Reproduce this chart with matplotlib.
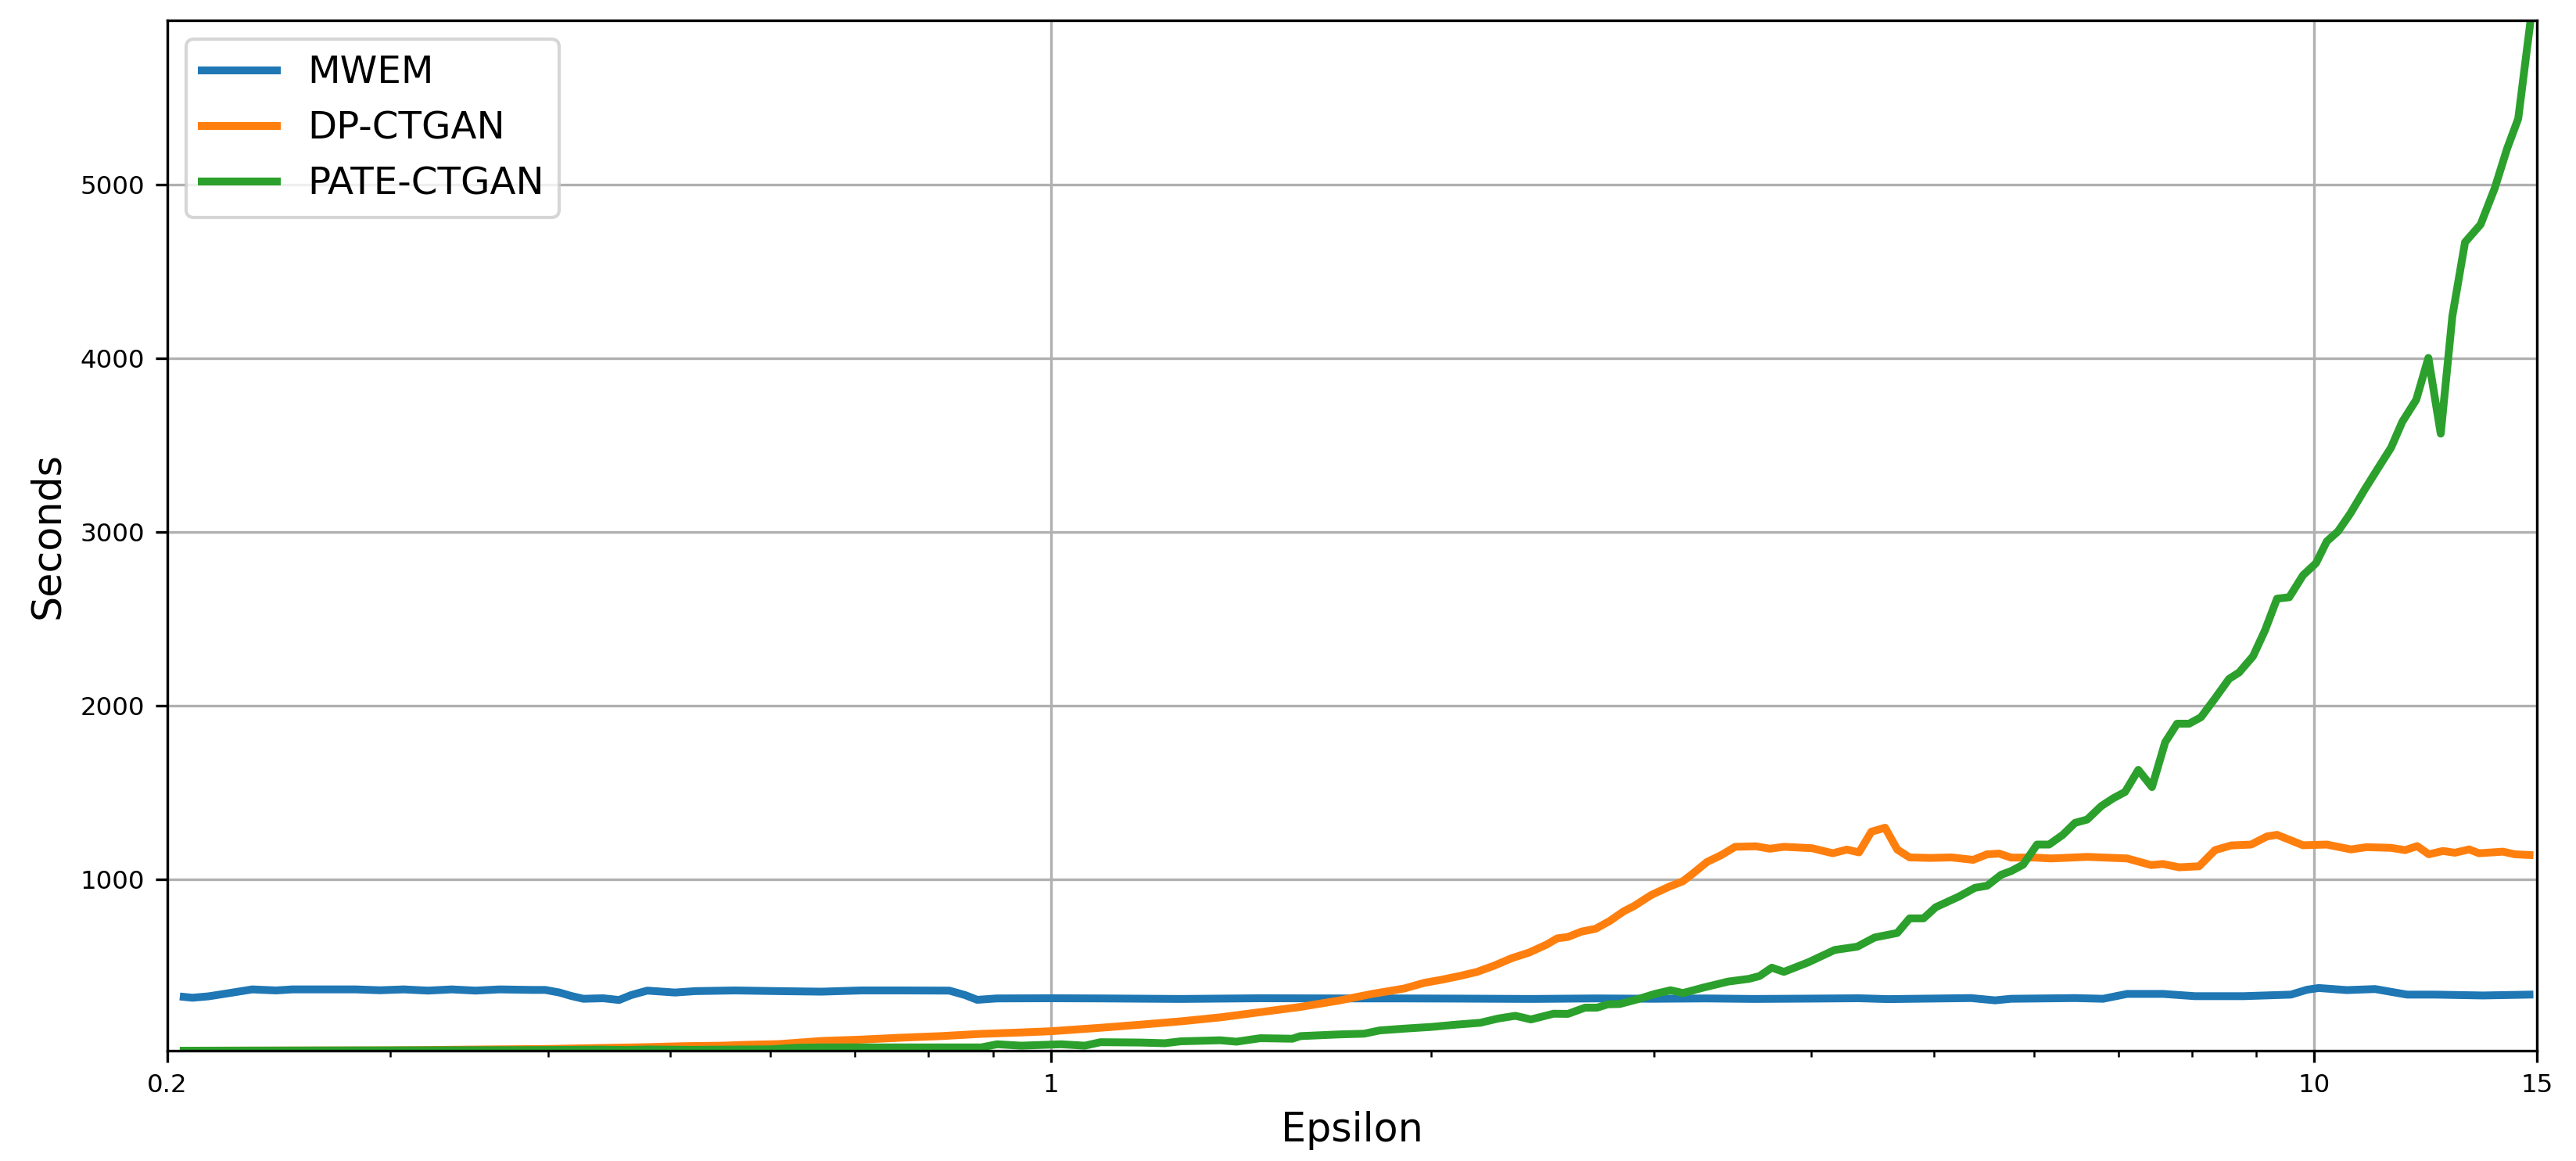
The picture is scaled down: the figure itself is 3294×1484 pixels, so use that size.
import matplotlib
matplotlib.use("Agg")
import matplotlib.pyplot as plt

# epsilon values and run times (seconds)
mwem_eps = [0.206, 0.2093, 0.2155, 0.2235, 0.2334, 0.2438, 0.251, 0.2819, 0.2944, 0.3076,
            0.3214, 0.3357, 0.3506, 0.3663, 0.3882, 0.3981, 0.4085, 0.4175, 0.4267, 0.4423,
            0.4554, 0.4654, 0.4794, 0.5043, 0.523, 0.5623, 0.6091, 0.6588, 0.7085, 0.7617,
            0.8313, 0.8557, 0.8746, 0.907, 1.0, 1.095, 1.267, 1.465, 1.694, 1.904,
            2.1, 2.4, 2.7, 3.0, 3.3, 3.6, 4.0, 4.36, 4.6, 4.83,
            5.35, 5.589, 5.754, 6.466, 6.805, 7.11, 7.592, 8.046, 8.783, 9.583,
            9.867, 10.08, 10.61, 11.17, 11.84, 12.46, 13.59, 14.8]
mwem_sec = [322, 317, 325, 343, 365, 359, 365, 365, 360, 365,
            358, 365, 358, 365, 362, 362, 347, 327, 311, 314,
            304, 332, 358, 347, 355, 359, 355, 352, 359, 359,
            358, 332, 305, 313, 314, 313, 310, 314, 313, 313,
            312, 310, 313, 311, 313, 310, 312, 314, 309, 311,
            315, 302, 311, 315, 311, 339, 339, 326, 326, 335,
            363, 373, 361, 367, 335, 335, 330, 335]

dpctgan_eps = [0.206, 0.3, 0.356, 0.4, 0.442, 0.476, 0.512, 0.55, 0.575, 0.609,
               0.6588, 0.7085, 0.7617, 0.819, 0.881, 0.9475, 1.0, 1.095, 1.178, 1.267,
               1.362, 1.465, 1.576, 1.694, 1.796, 1.904, 1.976, 2.04, 2.106, 2.175,
               2.244, 2.317, 2.391, 2.47, 2.517, 2.566, 2.631, 2.699, 2.768, 2.84,
               2.895, 2.988, 3.085, 3.165, 3.226, 3.307, 3.393, 3.48, 3.615, 3.708,
               3.804, 4.003, 4.158, 4.266, 4.362, 4.461, 4.574, 4.677, 4.783, 4.968,
               5.161, 5.37, 5.509, 5.63, 5.754, 6.012, 6.189, 6.61, 7.11, 7.427,
               7.592, 7.816, 8.106, 8.345, 8.593, 8.912, 9.175, 9.343, 9.795, 10.23,
               10.69, 11.0, 11.5, 11.8, 12.06, 12.32, 12.64, 12.92, 13.26, 13.5,
               14.1, 14.41, 14.8]
dpctgan_sec = [12, 14, 19, 22, 28, 32, 38, 41, 46, 50,
               68, 76, 87, 96, 109, 117, 124, 144, 162, 181,
               204, 234, 264, 302, 339, 370, 403, 421, 442, 466,
               502, 545, 577, 624, 659, 667, 698, 714, 758, 814,
               845, 909, 956, 988, 1035, 1099, 1138, 1186, 1189, 1175,
               1186, 1178, 1149, 1170, 1154, 1273, 1296, 1170, 1125, 1122,
               1125, 1111, 1143, 1147, 1124, 1124, 1119, 1128, 1119, 1081,
               1087, 1068, 1074, 1167, 1194, 1199, 1246, 1255, 1195, 1199,
               1171, 1184, 1180, 1167, 1190, 1143, 1162, 1152, 1171, 1149,
               1158, 1143, 1139]

pate_eps = [0.206, 0.25, 0.3, 0.35, 0.4, 0.44, 0.46, 0.48, 0.52, 0.6,
            0.629, 0.6588, 0.7085, 0.7617, 0.819, 0.881, 0.907, 0.9475, 1.019, 1.064,
            1.095, 1.178, 1.231, 1.267, 1.362, 1.403, 1.465, 1.553, 1.576, 1.694,
            1.77, 1.822, 1.904, 2.001, 2.093, 2.188, 2.259, 2.332, 2.399, 2.5,
            2.566, 2.648, 2.707, 2.759, 2.821, 2.913, 3.007, 3.094, 3.165, 3.287,
            3.436, 3.57, 3.639, 3.721, 3.804, 3.977, 4.172, 4.348, 4.488, 4.677,
            4.783, 4.906, 5.016, 5.234, 5.388, 5.509, 5.651, 5.754, 5.882, 6.033,
            6.167, 6.323, 6.466, 6.61, 6.781, 6.93, 7.083, 7.256, 7.439, 7.62,
            7.787, 7.96, 8.133, 8.345, 8.561, 8.719, 8.944, 9.141, 9.343, 9.553,
            9.797, 10.03, 10.23, 10.44, 10.68, 10.96, 11.24, 11.5, 11.74, 12.04,
            12.31, 12.59, 12.86, 13.16, 13.54, 13.89, 14.21, 14.5, 14.83]
pate_sec = [12, 13, 14, 15, 16, 18, 16, 19, 17, 20,
            29, 31, 31, 31, 31, 31, 49, 41, 49, 41,
            61, 59, 55, 66, 72, 64, 84, 81, 96, 106,
            110, 129, 139, 149, 162, 173, 197, 213, 192, 225,
            224, 260, 260, 279, 281, 308, 339, 360, 344, 376,
            410, 426, 442, 490, 466, 521, 592, 611, 664, 690,
            774, 774, 838, 900, 950, 962, 1025, 1046, 1083, 1199,
            1199, 1255, 1324, 1343, 1420, 1465, 1502, 1629, 1530, 1788,
            1895, 1895, 1932, 2041, 2153, 2190, 2284, 2433, 2615, 2623,
            2750, 2819, 2945, 3002, 3106, 3243, 3370, 3484, 3634, 3760,
            4001, 3565, 4242, 4667, 4770, 4977, 5207, 5379, 5945]

fig = plt.figure(figsize=(3295 / 300, 1484 / 300), dpi=300)
ax = fig.add_axes([0.065, 0.095, 0.9195, 0.8875])

ax.plot(mwem_eps, mwem_sec, linewidth=2.4, label='MWEM')
ax.plot(dpctgan_eps, dpctgan_sec, linewidth=2.4, label='DP-CTGAN')
ax.plot(pate_eps, pate_sec, linewidth=2.4, label='PATE-CTGAN')

ax.set_xscale('log')
ax.set_xlim(0.2, 15)
all_sec = mwem_sec + dpctgan_sec + pate_sec
ax.set_ylim(min(all_sec), max(all_sec))
ax.set_xticks([0.2, 1, 10, 15])
ax.set_xticklabels(['0.2', '1', '10', '15'])
ax.tick_params(labelsize=7.8)
ax.grid(True)

ax.set_xlabel('Epsilon', fontsize=12.2)
ax.set_ylabel('Seconds', fontsize=12.2)
ax.legend(loc='upper left', fontsize=11.6)

fig.savefig('out.png', dpi=300)
